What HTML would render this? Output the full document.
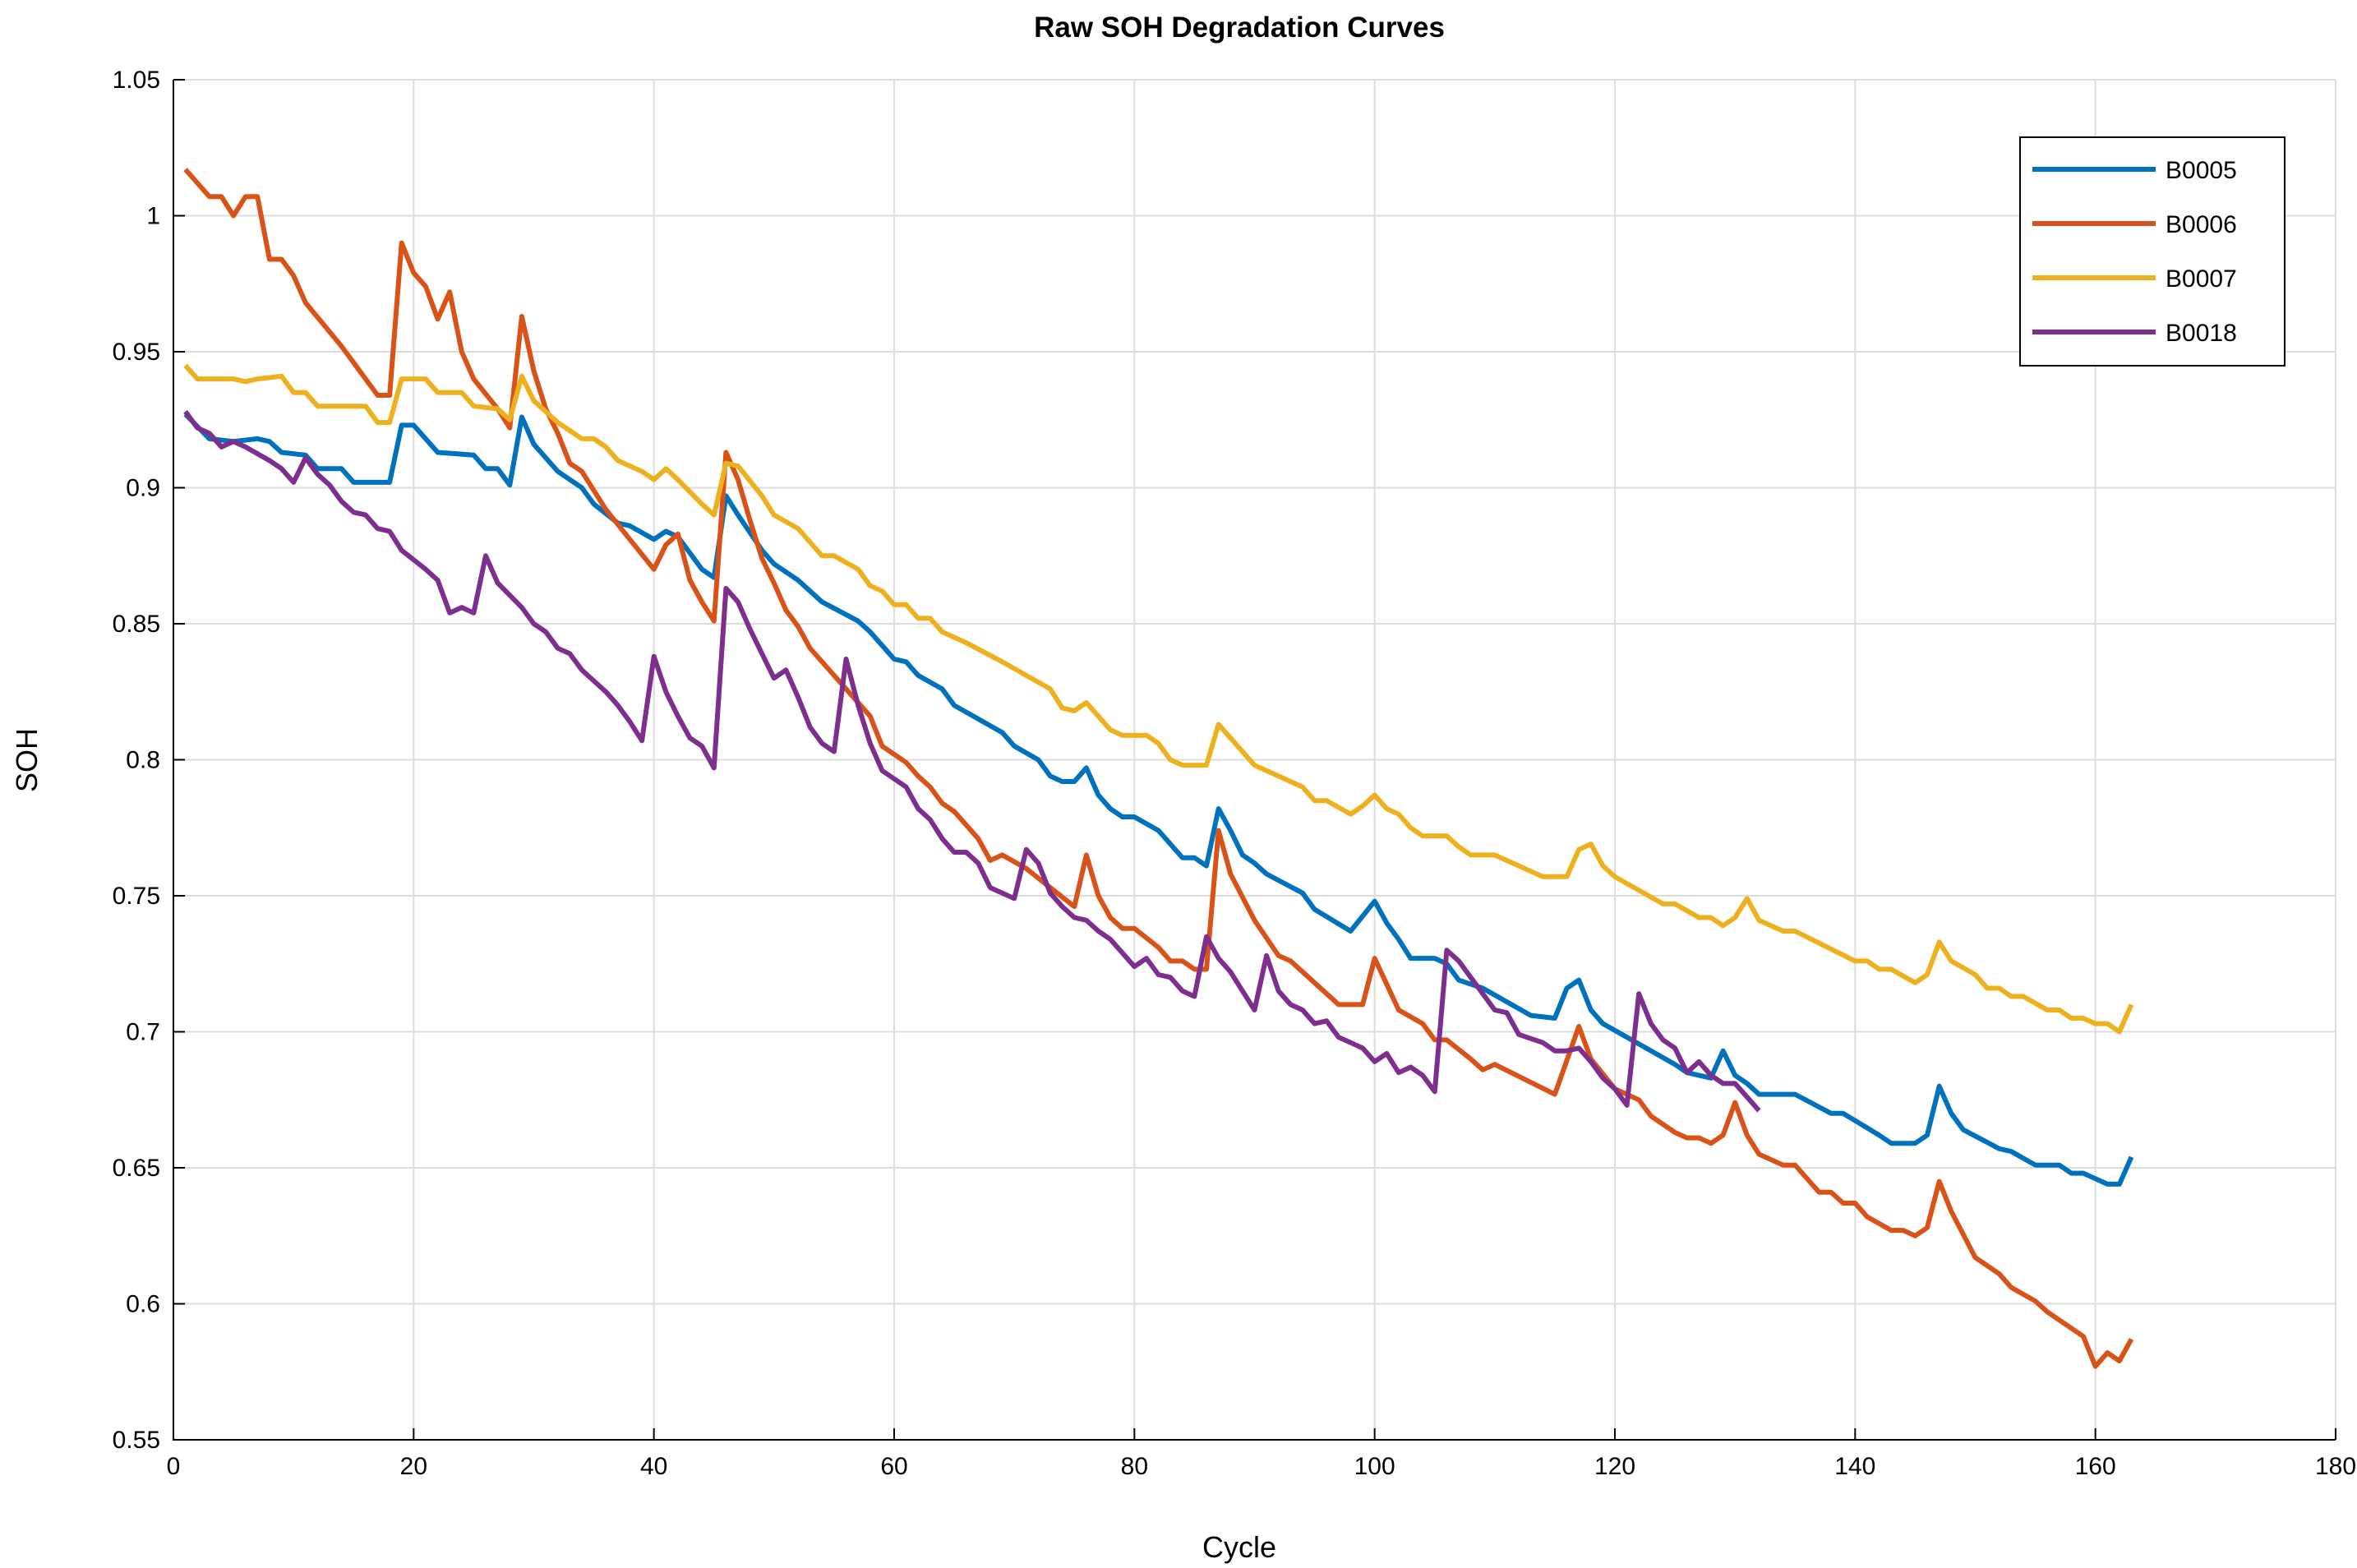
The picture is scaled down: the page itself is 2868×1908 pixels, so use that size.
<!DOCTYPE html>
<html><head><meta charset="utf-8"><style>
html,body{margin:0;padding:0;background:#fff;}
svg{display:block;font-family:"Liberation Sans",Arial,sans-serif;}
</style></head><body>
<svg id="chart" width="2868" height="1908" viewBox="0 0 2868 1908" xmlns="http://www.w3.org/2000/svg">
<rect width="2868" height="1908" fill="#fff"/>
<text x="1508" y="45" text-anchor="middle" font-size="35" font-weight="bold">Raw SOH Degradation Curves</text>
<g id="grid"></g>
<g id="series"></g>
<g id="axes"></g>
<text x="1508" y="1895" text-anchor="middle" font-size="36">Cycle</text>
<text transform="translate(45,925) rotate(-90)" text-anchor="middle" font-size="36">SOH</text>
<g id="legend"></g>
</svg>
<script>
const xTicks=[0,20,40,60,80,100,120,140,160,180];
const yTicks=[0.55,0.6,0.65,0.7,0.75,0.8,0.85,0.9,0.95,1,1.05];
const yTickLabels=["0.55","0.6","0.65","0.7","0.75","0.8","0.85","0.9","0.95","1","1.05"];
const seriesNames=["B0005","B0006","B0007","B0018"];
const seriesColors=["#0072BD","#D95319","#EDB120","#7E2F8E"];
const b5Cycles=[1,3,5,7,8,9,11,12,14,15,18,19,20,22,25,26,27,28,29,30,32,34,35,37,38,40,41,42,43,44,45,46,47,49,50,52,54,57,58,60,61,62,64,65,69,70,72,73,74,75,76,77,78,79,80,82,84,85,86,87,88,89,90,91,94,95,98,100,101,102,103,105,106,107,109,113,115,116,117,118,119,121,125,126,128,129,130,131,132,135,138,139,142,143,145,146,147,148,149,152,153,155,157,158,159,161,162,163];
const b5Values=[0.927,0.918,0.917,0.918,0.917,0.913,0.912,0.907,0.907,0.902,0.902,0.923,0.923,0.913,0.912,0.907,0.907,0.901,0.926,0.916,0.906,0.900,0.894,0.887,0.886,0.881,0.884,0.882,0.876,0.870,0.867,0.897,0.890,0.877,0.872,0.866,0.858,0.851,0.847,0.837,0.836,0.831,0.826,0.820,0.810,0.805,0.800,0.794,0.792,0.792,0.797,0.787,0.782,0.779,0.779,0.774,0.764,0.764,0.761,0.782,0.774,0.765,0.762,0.758,0.751,0.745,0.737,0.748,0.740,0.734,0.727,0.727,0.725,0.719,0.716,0.706,0.705,0.716,0.719,0.708,0.703,0.698,0.688,0.685,0.683,0.693,0.684,0.681,0.677,0.677,0.670,0.670,0.662,0.659,0.659,0.662,0.680,0.670,0.664,0.657,0.656,0.651,0.651,0.648,0.648,0.644,0.644,0.654];
const b6Cycles=[1,3,4,5,6,7,8,9,10,11,14,17,18,19,20,21,22,23,24,25,27,28,29,30,31,32,33,34,35,36,40,41,42,43,44,45,46,47,48,49,50,51,52,53,56,58,59,61,62,63,64,65,67,68,69,71,73,75,76,77,78,79,80,82,83,84,85,86,87,88,90,92,93,95,97,99,100,102,104,105,106,108,109,110,115,117,118,120,122,123,125,126,127,128,129,130,131,132,134,135,137,138,139,140,141,143,144,145,146,147,148,150,152,153,155,156,159,160,161,162,163];
const b6Values=[1.017,1.007,1.007,1.000,1.007,1.007,0.984,0.984,0.978,0.968,0.952,0.934,0.934,0.990,0.979,0.974,0.962,0.972,0.950,0.940,0.929,0.922,0.963,0.943,0.929,0.920,0.909,0.906,0.899,0.892,0.870,0.879,0.883,0.866,0.858,0.851,0.913,0.903,0.888,0.874,0.865,0.855,0.849,0.841,0.826,0.816,0.805,0.799,0.794,0.790,0.784,0.781,0.771,0.763,0.765,0.760,0.753,0.746,0.765,0.750,0.742,0.738,0.738,0.731,0.726,0.726,0.723,0.723,0.774,0.758,0.741,0.728,0.726,0.718,0.710,0.710,0.727,0.708,0.703,0.697,0.697,0.690,0.686,0.688,0.677,0.702,0.690,0.679,0.675,0.669,0.663,0.661,0.661,0.659,0.662,0.674,0.662,0.655,0.651,0.651,0.641,0.641,0.637,0.637,0.632,0.627,0.627,0.625,0.628,0.645,0.634,0.617,0.611,0.606,0.601,0.597,0.588,0.577,0.582,0.579,0.587];
const b7Cycles=[1,2,5,6,7,9,10,11,12,15,16,17,18,19,21,22,24,25,27,28,29,30,32,34,35,36,37,39,40,41,42,44,45,46,47,49,50,52,54,55,57,58,59,60,61,62,63,64,66,69,73,74,75,76,78,79,81,82,83,84,86,87,88,90,94,95,96,98,99,100,101,102,103,104,106,107,108,110,113,114,116,117,118,119,120,124,125,127,128,129,130,131,132,134,135,140,141,142,143,145,146,147,148,150,151,152,153,154,156,157,158,159,160,161,162,163];
const b7Values=[0.945,0.940,0.940,0.939,0.940,0.941,0.935,0.935,0.930,0.930,0.930,0.924,0.924,0.940,0.940,0.935,0.935,0.930,0.929,0.925,0.941,0.932,0.924,0.918,0.918,0.915,0.910,0.906,0.903,0.907,0.903,0.894,0.890,0.909,0.908,0.897,0.890,0.885,0.875,0.875,0.870,0.864,0.862,0.857,0.857,0.852,0.852,0.847,0.843,0.836,0.826,0.819,0.818,0.821,0.811,0.809,0.809,0.806,0.800,0.798,0.798,0.813,0.808,0.798,0.790,0.785,0.785,0.780,0.783,0.787,0.782,0.780,0.775,0.772,0.772,0.768,0.765,0.765,0.759,0.757,0.757,0.767,0.769,0.761,0.757,0.747,0.747,0.742,0.742,0.739,0.742,0.749,0.741,0.737,0.737,0.726,0.726,0.723,0.723,0.718,0.721,0.733,0.726,0.721,0.716,0.716,0.713,0.713,0.708,0.708,0.705,0.705,0.703,0.703,0.700,0.710];
const b18Cycles=[1,2,3,4,5,6,8,9,10,11,12,13,14,15,16,17,18,19,21,22,23,24,25,26,27,29,30,31,32,33,34,36,37,38,39,40,41,42,43,44,45,46,47,48,49,50,51,52,53,54,55,56,57,58,59,60,61,62,63,64,65,66,67,68,70,71,72,73,74,75,76,77,78,79,80,81,82,83,84,85,86,87,88,89,90,91,92,93,94,95,96,97,98,99,100,101,102,103,104,105,106,107,108,110,111,112,114,115,116,117,118,119,120,121,122,123,124,125,126,127,128,129,130,131,132];
const b18Values=[0.928,0.922,0.920,0.915,0.917,0.915,0.910,0.907,0.902,0.911,0.905,0.901,0.895,0.891,0.890,0.885,0.884,0.877,0.870,0.866,0.854,0.856,0.854,0.875,0.865,0.856,0.850,0.847,0.841,0.839,0.833,0.825,0.820,0.814,0.807,0.838,0.825,0.816,0.808,0.805,0.797,0.863,0.858,0.848,0.839,0.830,0.833,0.823,0.812,0.806,0.803,0.837,0.820,0.806,0.796,0.793,0.790,0.782,0.778,0.771,0.766,0.766,0.762,0.753,0.749,0.767,0.762,0.751,0.746,0.742,0.741,0.737,0.734,0.729,0.724,0.727,0.721,0.720,0.715,0.713,0.735,0.727,0.722,0.715,0.708,0.728,0.715,0.710,0.708,0.703,0.704,0.698,0.696,0.694,0.689,0.692,0.685,0.687,0.684,0.678,0.730,0.726,0.720,0.708,0.707,0.699,0.696,0.693,0.693,0.694,0.689,0.683,0.679,0.673,0.714,0.703,0.697,0.694,0.685,0.689,0.684,0.681,0.681,0.676,0.671];
const allCycles=[b5Cycles,b6Cycles,b7Cycles,b18Cycles];
const allValues=[b5Values,b6Values,b7Values,b18Values];

const NS="http://www.w3.org/2000/svg";
const L=211,R=2842,T=97,B=1752;
const xS=v=>L+(v-0)/(180-0)*(R-L);
const yS=v=>B-(v-0.55)/(1.05-0.55)*(B-T);
function mk(tag,attrs,parent){const e=document.createElementNS(NS,tag);for(const k in attrs)e.setAttribute(k,attrs[k]);parent.appendChild(e);return e;}
const grid=document.getElementById('grid'),axes=document.getElementById('axes'),ser=document.getElementById('series'),leg=document.getElementById('legend');
xTicks.forEach(t=>{
  const g=mk('line',{x1:xS(t),x2:xS(t),y1:T,y2:B,stroke:'#dcdcdc','stroke-width':2},grid);
  
  
  const tk=mk('line',{x1:xS(t),x2:xS(t),y1:B,y2:B-14,stroke:'#000','stroke-width':2},axes);
  
  
  const tx=mk('text',{x:xS(t),y:B+42,'text-anchor':'middle','font-size':30},axes);
  tx.textContent=t;
  
  
});
yTicks.forEach((t,i)=>{
  const g=mk('line',{x1:L,x2:R,y1:yS(t),y2:yS(t),stroke:'#dcdcdc','stroke-width':2},grid);
  
  
  const tk=mk('line',{x1:L,x2:L+14,y1:yS(t),y2:yS(t),stroke:'#000','stroke-width':2},axes);
  
  
  const tx=mk('text',{x:L-16,y:yS(t)+10,'text-anchor':'end','font-size':30},axes);
  tx.textContent=yTickLabels[i];
  
  
});
const ax=mk('path',{d:`M${L},${T}V${B}H${R}`,fill:'none',stroke:'#000','stroke-width':2},axes);


allCycles.forEach((cs,si)=>{
  const n=Math.min(cs.length,allValues[si].length);
  let d='';
  for(let i=0;i<n;i++){d+=(i?'L':'M')+xS(cs[i]).toFixed(1)+','+yS(allValues[si][i]).toFixed(1);}
  const p=mk('path',{d:d,fill:'none',stroke:seriesColors[si],'stroke-width':6,'stroke-linejoin':'round'},ser);
  
  
});
const box=mk('rect',{x:2458,y:167,width:322,height:278,fill:'#fff',stroke:'#000','stroke-width':2},leg);


seriesNames.forEach((n,i)=>{
  const y=206+i*66;
  const ln=mk('line',{x1:2473,x2:2623,y1:y,y2:y,stroke:seriesColors[i],'stroke-width':6},leg);
  
  
  const tx=mk('text',{x:2635,y:y+11,'font-size':30},leg);
  tx.textContent=n;
  
  
});
</script>
</body></html>
